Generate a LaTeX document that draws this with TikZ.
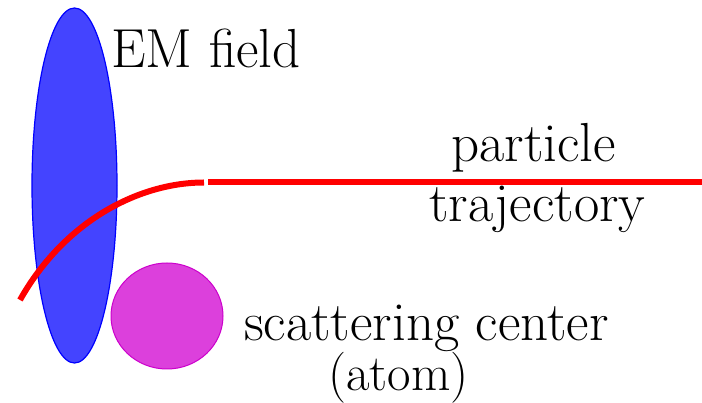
\documentclass[tikz,border=0pt]{standalone}
\usepackage{fontspec}
\begin{document}
\begin{tikzpicture}[x=1pt,y=-1pt,
  lbl/.style={inner sep=0pt,anchor=base west,font=\fontsize{55}{60}\selectfont},
  traj/.style={draw=red,line width=6pt}]
\definecolor{fieldfill}{RGB}{68,68,255}
\definecolor{atomfill}{RGB}{220,64,220}
\definecolor{atomdraw}{RGB}{204,0,204}
\useasboundingbox (0,0) rectangle (702,403);
\fill[fieldfill,draw=blue,line width=1.2pt] (74.5,185.5) ellipse [x radius=42.5,y radius=177.5];
\fill[atomfill,draw=atomdraw,line width=1pt] (167,316) ellipse [x radius=56,y radius=53];
\coordinate (c0) at (20,300);
\coordinate (c1) at (204,182.5);
\coordinate (s0) at (208,182.5);
\coordinate (s1) at (702,182.5);
\draw[traj] (c0) .. controls (65,220) and (140,182.5) .. (c1);
\draw[traj] (s0) -- (s1);
\node[lbl] (em) at (111,68) {EM field};
\node[lbl] (p1) at (451,162) {particle};
\node[lbl] (p2) at (429,222) {trajectory};
\node[lbl] (s1t) at (244,341) {scattering center};
\node[lbl,font=\fontsize{51}{56}\selectfont] (s2t) at (328,390.5) {(atom)};
\end{tikzpicture}
\end{document}
